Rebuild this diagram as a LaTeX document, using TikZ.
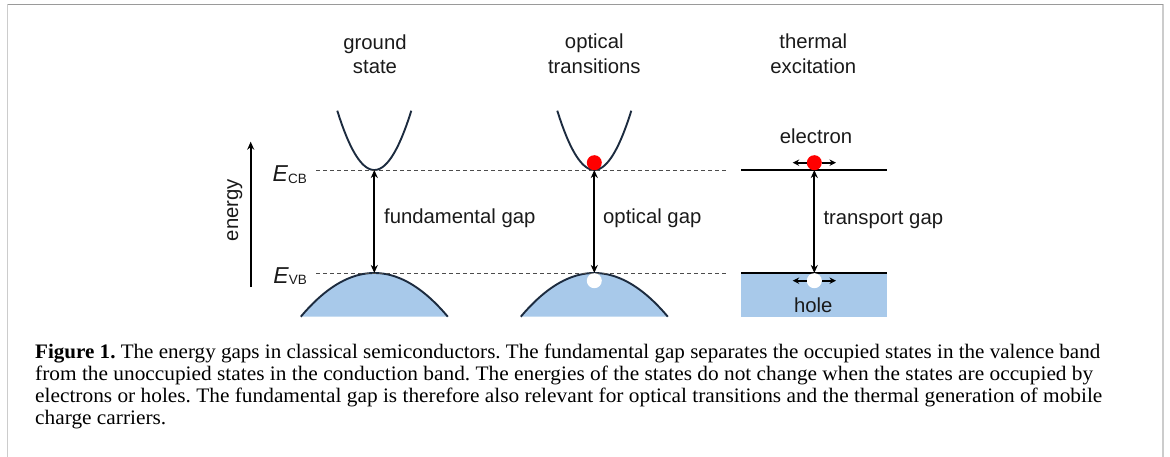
\documentclass[tikz,border=0pt]{standalone}
\usepackage{fontspec}
\setmainfont{Liberation Serif}
\setsansfont{Liberation Sans}
\usetikzlibrary{arrows.meta}
\definecolor{band}{HTML}{A8C9EA}
\definecolor{navy}{HTML}{1C2B3F}
\definecolor{txt}{HTML}{1A1A1A}
\definecolor{framedark}{HTML}{9A9A9A}
\definecolor{framelight}{HTML}{CCCCCC}
\newsavebox{\capmeasure}
\newlength{\capmeasurew}
\newcommand{\capfont}{\fontsize{20.6}{22}\selectfont}
\begin{document}
\frenchspacing
\sbox{\capmeasure}{\capfont electrons or holes. The fundamental gap is therefore also relevant for optical transitions and the thermal generation of mobile}%
\setlength{\capmeasurew}{\wd\capmeasure}%
\pgfmathsetmacro{\capfactor}{1067/\capmeasurew}%
\begin{tikzpicture}[x=1pt,y=-1pt,
  lbl/.style={font=\sffamily\fontsize{20.3}{24}\selectfont, text=txt, inner sep=0pt},
  caplabel/.style={font=\capfont, text=black, anchor=base west, inner sep=0pt},
  tipstyle/.style={-{Stealth[length=8pt,width=7pt]}},
  gaparrow/.style={{Stealth[length=8pt,width=7pt]}-{Stealth[length=8pt,width=7pt]}, line width=1.7pt, black},
  smallarrow/.style={-{Stealth[length=6.5pt,width=6.5pt]}, line width=1.7pt, black},
  levelline/.style={densely dashed, dash pattern=on 4pt off 3pt, line width=0.9pt, black!70},
  bandcurve/.style={navy, line width=1.9pt},
  carrier/.style={circle, inner sep=0pt, minimum size=15pt},
]
\useasboundingbox (0,0) rectangle (1170,457);
% frame
\coordinate (fTL) at (7.5,4.5);
\coordinate (fTR) at (1163,4.5);
\coordinate (fBL) at (7.5,457);
\coordinate (fBR) at (1163,457);
\draw[framelight, line width=1.6pt] (fTL) -- (fBL);
\draw[framelight, line width=1.6pt] (fTR) -- (fBR);
\draw[framedark, line width=1.2pt] (fTL) -- (fTR);

% titles
\node[lbl, anchor=base] (t1a) at (375,49.3) {ground};
\node[lbl, anchor=base] (t1b) at (375,73.3) {state};
\node[lbl, anchor=base] (t2a) at (594.3,48.3) {optical};
\node[lbl, anchor=base] (t2b) at (594.3,73.3) {transitions};
\node[lbl, anchor=base] (t3a) at (813.3,48.3) {thermal};
\node[lbl, anchor=base] (t3b) at (813.3,73.3) {excitation};

% energy axis
\coordinate (eaxb) at (250.7,287);
\coordinate (eaxt) at (250.7,141.7);
\draw[tipstyle, line width=1.7pt, black] (eaxb) -- (eaxt);
\node[lbl, anchor=base, rotate=90] (energy) at (238,210) {energy};

% level labels
\node[lbl, anchor=base east] (ecb) at (307,181.7) {{\fontsize{23}{23}\selectfont\itshape E}\raisebox{-1.5pt}{\fontsize{13.5}{13.5}\selectfont CB}};
\node[lbl, anchor=base east] (evb) at (307,283.3) {{\fontsize{23}{23}\selectfont\itshape E}\raisebox{-1pt}{\fontsize{13.5}{13.5}\selectfont VB}};

% valence band domes and conduction band parabolas
\foreach \c in {374.3,594.3}{
  \fill[band] plot[domain=-73.5:73.5, samples=60] ({\c+\x},{273+43.7*(\x/73.5)^2}) -- cycle;
  \draw[bandcurve] plot[domain=-73.5:73.5, samples=60] ({\c+\x},{273+43.7*(\x/73.5)^2});
  \draw[bandcurve] plot[domain=-37:37, samples=60] ({\c+\x},{170-59.3*(\x/37)^2});
}

% thermal bands
\coordinate (vbl) at (741,273);
\coordinate (vbr) at (887.3,273);
\coordinate (vbbr) at (887.3,316.7);
\coordinate (cbl) at (741,170);
\coordinate (cbr) at (887.3,170);
\fill[band] (vbl) rectangle (vbbr);
\draw[line width=1.9pt, black] (vbl) -- (vbr);
\draw[line width=1.9pt, black] (cbl) -- (cbr);

% dashed levels
\coordinate (dcl) at (316,170);
\coordinate (dcr) at (727,170);
\coordinate (dvl) at (316,273.3);
\coordinate (dvr) at (727,273.3);
\draw[levelline] (dcl) -- (dcr);
\draw[levelline] (dvl) -- (dvr);

% gap arrows
\coordinate (g1t) at (374.3,170);
\coordinate (g1b) at (374.3,273);
\coordinate (g2t) at (594.3,170);
\coordinate (g2b) at (594.3,273);
\coordinate (g3t) at (814.3,170);
\coordinate (g3b) at (814.3,273);
\draw[gaparrow] (g1t) -- (g1b);
\draw[gaparrow] (g2t) -- (g2b);
\draw[gaparrow] (g3t) -- (g3b);

\node[lbl, anchor=base west] (fg) at (384,224) {fundamental gap};
\node[lbl, anchor=base west] (og) at (603,224) {optical gap};
\node[lbl, anchor=base west] (tg) at (823.3,225) {transport gap};

% carriers
\node[carrier, fill=red] (e2) at (594.3,162.7) {};
\node[carrier, fill=white] (h2) at (594.3,280.7) {};
\node[carrier, fill=red] (e3) at (814.3,162.7) {};
\node[carrier, fill=white] (h3) at (814.3,280.7) {};
\coordinate (e3l) at (792.7,162.7);
\coordinate (e3r) at (836,162.7);
\coordinate (h3l) at (792.7,280.7);
\coordinate (h3r) at (836,280.7);
\draw[smallarrow] (e3.west) -- (e3l);
\draw[smallarrow] (e3.east) -- (e3r);
\draw[smallarrow] (h3.west) -- (h3l);
\draw[smallarrow] (h3.east) -- (h3r);

\node[lbl, anchor=base] (elec) at (816,143.3) {electron};
\node[lbl, anchor=base] (hole) at (813.3,312.7) {hole};

% caption
\node[caplabel] (c1) at (35,358.5) {\resizebox{1065pt}{\height}{\textbf{Figure 1.} The energy gaps in classical semiconductors. The fundamental gap separates the occupied states in the valence band}};
\node[caplabel] (c2) at (35,380.5) {\resizebox{1058pt}{\height}{from the unoccupied states in the conduction band. The energies of the states do not change when the states are occupied by}};
\node[caplabel] (c3) at (35,402.5) {\resizebox{1067pt}{\height}{electrons or holes. The fundamental gap is therefore also relevant for optical transitions and the thermal generation of mobile}};
\node[caplabel] (c4) at (35,424.5) {\scalebox{\capfactor}[1]{charge carriers.}};
\end{tikzpicture}
\end{document}
